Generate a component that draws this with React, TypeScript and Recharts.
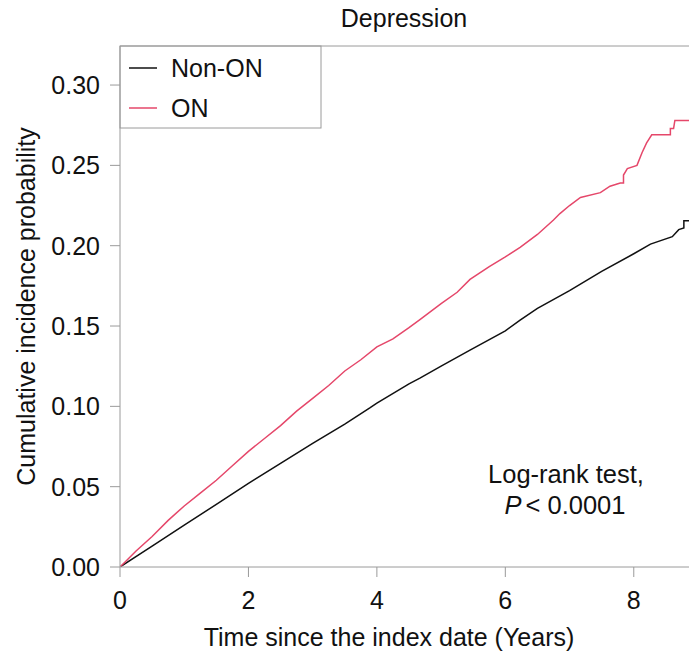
import React from "react";
import { LineChart, Line, XAxis, YAxis, ReferenceLine, Customized } from "recharts";

const onTimes = [0, 0.25, 0.5, 0.75, 1.0, 1.25, 1.5, 1.75, 2.0, 2.25, 2.5, 2.75, 3.0, 3.25, 3.5, 3.75, 4.0, 4.25, 4.5, 4.67, 5.0, 5.25, 5.45, 5.75, 6.0, 6.23, 6.5, 6.75, 6.85, 7.0, 7.17, 7.48, 7.63, 7.79, 7.84, 7.84, 7.9, 8.05, 8.13, 8.2, 8.28, 8.57, 8.57, 8.62, 8.64, 8.86];
const onValues = [0, 0.010, 0.019, 0.029, 0.038, 0.046, 0.054, 0.063, 0.072, 0.080, 0.088, 0.097, 0.105, 0.113, 0.122, 0.129, 0.137, 0.142, 0.149, 0.154, 0.164, 0.171, 0.179, 0.187, 0.193, 0.199, 0.207, 0.216, 0.220, 0.225, 0.230, 0.233, 0.237, 0.239, 0.239, 0.244, 0.248, 0.250, 0.258, 0.264, 0.269, 0.269, 0.273, 0.273, 0.278, 0.278];

const nonOnTimes = [0, 0.5, 1.0, 1.5, 2.0, 2.5, 3.0, 3.5, 3.89, 4.0, 4.5, 4.67, 5.0, 5.45, 6.0, 6.23, 6.5, 7.0, 7.5, 8.0, 8.26, 8.6, 8.7, 8.78, 8.78, 8.86];
const nonOnValues = [0, 0.013, 0.026, 0.039, 0.052, 0.0645, 0.077, 0.089, 0.099, 0.102, 0.114, 0.1176, 0.125, 0.135, 0.147, 0.1537, 0.161, 0.172, 0.184, 0.195, 0.201, 0.2056, 0.210, 0.211, 0.2155, 0.2155];

const xTicks = [0, 2, 4, 6, 8];
const yTicks = [0, 0.05, 0.1, 0.15, 0.2, 0.25, 0.3];
const seriesNames = ["Non-ON", "ON"];
const title = "Depression";
const xLabel = "Time since the index date (Years)";
const yLabel = "Cumulative incidence probability";
const testLine1 = "Log-rank test,";
const testLine2 = "< 0.0001";

const onData = onTimes.map((t, i) => ({ t, v: onValues[i] }));
const nonOnData = nonOnTimes.map((t, i) => ({ t, v: nonOnValues[i] }));

const FONT = "'Liberation Sans', Arial, Helvetica, sans-serif";
const RED = "#E5476A";
const BLACK = "#111111";
const GRAY = "#9a9a9a";

const Overlay = () => (
  <g fontFamily={FONT} fill="#111">
    <rect x={120} y={46} width={201} height={82} fill="#fff" stroke={GRAY} strokeWidth={1} />
    <line x1={129} x2={157} y1={68} y2={68} stroke={BLACK} strokeWidth={1.5} />
    <text x={171} y={77} fontSize={25}>{seriesNames[0]}</text>
    <line x1={129} x2={157} y1={108} y2={108} stroke={RED} strokeWidth={1.5} />
    <text x={171} y={117} fontSize={25}>{seriesNames[1]}</text>
    <text x={566} y={483} fontSize={25.5} textAnchor="middle">{testLine1}</text>
    <text x={565} y={514} fontSize={25.5} textAnchor="middle">
      <tspan fontStyle="italic">P</tspan>
      <tspan dx={4}>{testLine2}</tspan>
    </text>
    <text x={404} y={27} fontSize={25} textAnchor="middle">{title}</text>
    <text x={389} y={646} fontSize={25} textAnchor="middle">{xLabel}</text>
  </g>
);

export default function App() {
  return (
    <div style={{ position: "absolute", left: 0, top: 0, background: "#fff" }}>
      <LineChart width={689} height={660} margin={{ top: 46, right: 0, left: 0, bottom: 0 }}>
        <XAxis
          dataKey="t"
          type="number"
          domain={[0, 8.86]}
          ticks={xTicks}
          allowDataOverflow
          height={93}
          tickSize={10}
          tickMargin={14}
          stroke={GRAY}
          tick={{ fill: "#111", fontSize: 25, fontFamily: FONT }}
        />
        <YAxis
          type="number"
          domain={[0, 0.3243]}
          ticks={yTicks}
          allowDataOverflow
          width={120}
          tickSize={10}
          tickMargin={10}
          stroke={GRAY}
          tickFormatter={(v: number) => v.toFixed(2)}
          tick={{ fill: "#111", fontSize: 25, fontFamily: FONT }}
          label={{ value: yLabel, angle: -90, position: "insideLeft", offset: 26, fill: "#111", fontSize: 25, fontFamily: FONT, style: { textAnchor: "middle" } }}
        />
        <ReferenceLine y={0.3243} stroke={GRAY} />
        <Line data={nonOnData} dataKey="v" type="linear" stroke={BLACK} strokeWidth={1.5} dot={false} isAnimationActive={false} name={seriesNames[0]} />
        <Line data={onData} dataKey="v" type="linear" stroke={RED} strokeWidth={1.5} dot={false} isAnimationActive={false} name={seriesNames[1]} />
        <Customized component={Overlay} />
      </LineChart>
    </div>
  );
}
